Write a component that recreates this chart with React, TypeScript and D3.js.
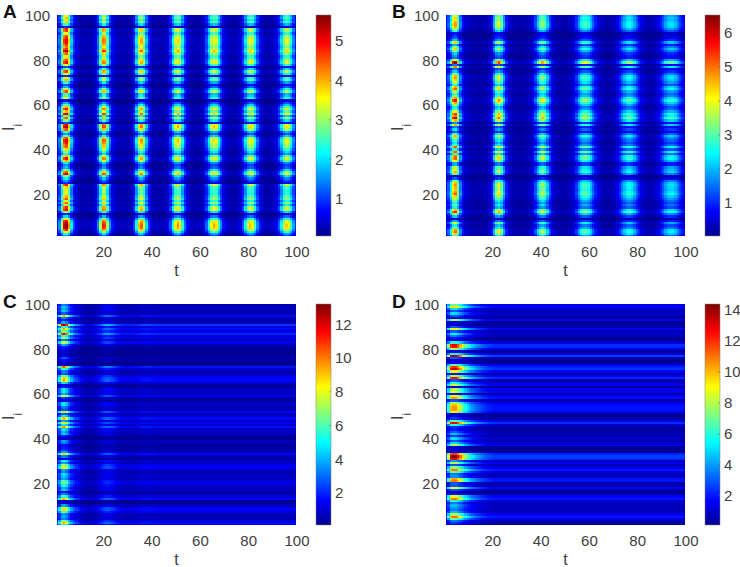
import * as d3 from 'd3'

const rowsA = [
    1.6, 2.4, 3.6, 4.8, 5.5, 5.6, 5.4, 5.0, 3.6, 2.0,
    0.9, 3.0, 5.0, 4.8, 3.2, 4.4, 3.4, 4.5, 4.0, 3.4,
    3.6, 3.5, 3.8, 4.9, 1.0, 1.6, 2.2, 3.0, 5.3, 4.5,
    3.0, 1.8, 1.5, 2.2, 4.0, 5.0, 4.0, 2.4, 3.0, 3.8,
    4.5, 4.6, 4.9, 5.2, 4.6, 2.8, 1.7, 2.6, 4.6, 5.4,
    5.2, 1.2, 3.0, 4.5, 2.8, 5.4, 4.0, 5.0, 4.0, 2.8,
    1.8, 0.8, 3.6, 2.8, 2.6, 4.6, 3.4, 1.8, 1.2, 2.5,
    4.0, 3.6, 1.0, 3.5, 4.7, 3.0, 1.2, 3.6, 5.0, 4.6,
    3.8, 3.6, 4.5, 5.5, 4.7, 4.3, 4.6, 5.0, 5.1, 4.8,
    4.6, 3.6, 4.7, 4.8, 0.9, 2.6, 3.8, 3.2, 3.9, 3.5,
]
const rowsB = [
    3.0, 4.4, 5.0, 4.8, 3.2, 2.6, 4.0, 2.0, 0.6, 2.2,
    3.6, 5.6, 4.6, 2.6, 3.2, 2.6, 3.2, 3.8, 4.4, 5.2,
    4.8, 4.4, 4.6, 4.8, 4.5, 3.4, 1.4, 0.5, 3.4, 4.6,
    4.2, 3.8, 2.0, 2.0, 4.2, 5.2, 5.0, 3.0, 5.2, 2.8,
    5.2, 3.0, 2.4, 3.0, 3.6, 4.6, 3.0, 1.4, 2.4, 1.6,
    4.6, 1.8, 4.6, 6.2, 5.0, 5.4, 4.2, 3.0, 2.6, 3.6,
    4.6, 5.8, 4.8, 3.4, 3.0, 3.8, 5.2, 4.6, 2.8, 3.8,
    4.4, 4.8, 4.6, 3.4, 2.2, 1.6, 5.0, 1.6, 6.5, 4.0,
    1.6, 1.8, 2.2, 3.4, 4.4, 3.4, 2.0, 4.4, 2.2, 1.4,
    1.2, 0.9, 2.8, 3.8, 4.6, 4.8, 4.6, 4.2, 4.4, 4.0,
]
const rowsC = [
    6, 9.5, 7, 3.5, 4, 3.8, 6.5, 9, 8.5, 4,
    1, 1.2, 9.5, 6, 3.5, 1.8, 4.5, 4, 5.5, 7,
    6.5, 4, 4.5, 5, 3.5, 4, 8.5, 7.5, 4, 5.5,
    1.5, 3.5, 9, 4, 2.5, 2, 1.8, 3.5, 4, 1,
    2, 4.5, 4, 5, 10, 5, 8.5, 4, 9.5, 5,
    3, 9, 3, 3.5, 5, 5, 1.5, 2.5, 8.5, 4,
    5, 5, 2, 1.5, 5, 9.5, 9, 7, 3, 3.5,
    6, 10.5, 1, 0.7, 1.8, 3, 1, 1, 1.2, 1.8,
    2, 4, 8, 3.5, 7.5, 6, 12, 7, 9.5, 6,
    13.2, 4, 2, 3.5, 9.5, 3, 4.5, 4, 4.5, 3.5,
]
const rowsD = [
    1.5, 2.5, 3.5, 7, 11, 8, 4.5, 3.5, 4, 4.5,
    3.5, 6, 11, 9, 2, 1, 3, 9, 3, 3,
    11, 10.5, 4, 3.5, 7, 11, 7.5, 3, 8, 4,
    13, 14.4, 12, 1.5, 0.8, 1.2, 8, 5, 3, 5,
    2.5, 4.5, 3, 2, 2.5, 6, 13, 7, 2.5, 0.8,
    1.5, 9, 10.5, 10.5, 10, 8, 3, 10.5, 9, 2,
    8.5, 8, 1.5, 8.5, 6, 3, 12.5, 8, 2, 9,
    13.5, 12, 7, 1.5, 1.2, 3, 14, 6, 1.5, 8,
    12.5, 13, 6, 1.2, 2, 3.5, 5.5, 3, 9, 3,
    1, 1.5, 8, 1.5, 3, 5, 3, 5, 9.5, 7,
]

// relative response at t = 1..100
const timeA = [
    0.14, 0.28, 0.58, 0.92, 1, 0.74, 0.38, 0.2, 0.11, 0.07,
    0.06, 0.06, 0.06, 0.06, 0.06, 0.07, 0.12, 0.27, 0.58, 0.86,
    0.84, 0.55, 0.28, 0.14, 0.09, 0.07, 0.06, 0.06, 0.06, 0.06,
    0.06, 0.09, 0.19, 0.42, 0.7, 0.8, 0.62, 0.36, 0.19, 0.1,
    0.07, 0.06, 0.06, 0.06, 0.06, 0.07, 0.11, 0.22, 0.43, 0.66,
    0.75, 0.66, 0.44, 0.24, 0.13, 0.08, 0.06, 0.06, 0.06, 0.06,
    0.07, 0.12, 0.23, 0.42, 0.63, 0.72, 0.66, 0.46, 0.27, 0.14,
    0.09, 0.07, 0.06, 0.06, 0.06, 0.07, 0.11, 0.22, 0.41, 0.6,
    0.7, 0.65, 0.46, 0.27, 0.15, 0.09, 0.07, 0.06, 0.06, 0.07,
    0.08, 0.12, 0.23, 0.4, 0.58, 0.68, 0.63, 0.47, 0.3, 0.17,
]
const timeB = [
    0.16, 0.3, 0.55, 0.9, 1, 0.7, 0.35, 0.18, 0.11, 0.08,
    0.07, 0.06, 0.055, 0.05, 0.05, 0.05, 0.055, 0.07, 0.1, 0.18,
    0.42, 0.72, 0.84, 0.68, 0.4, 0.2, 0.11, 0.08, 0.06, 0.055,
    0.05, 0.05, 0.05, 0.055, 0.07, 0.09, 0.15, 0.27, 0.46, 0.64,
    0.72, 0.64, 0.46, 0.27, 0.15, 0.09, 0.07, 0.055, 0.05, 0.05,
    0.055, 0.07, 0.09, 0.14, 0.24, 0.38, 0.52, 0.6, 0.62, 0.56,
    0.44, 0.31, 0.2, 0.13, 0.09, 0.07, 0.055, 0.05, 0.055, 0.07,
    0.09, 0.14, 0.22, 0.33, 0.44, 0.52, 0.54, 0.5, 0.41, 0.3,
    0.2, 0.13, 0.09, 0.07, 0.06, 0.055, 0.07, 0.09, 0.13, 0.2,
    0.29, 0.39, 0.46, 0.48, 0.48, 0.43, 0.35, 0.26, 0.19, 0.13,
]
const timeC = [
    0.3, 0.55, 0.9, 1, 0.85, 0.58, 0.42, 0.33, 0.27, 0.22,
    0.18, 0.14, 0.12, 0.11, 0.11, 0.12, 0.14, 0.17, 0.21, 0.27,
    0.3, 0.31, 0.3, 0.27, 0.23, 0.2, 0.17, 0.16, 0.15, 0.15,
    0.15, 0.15, 0.16, 0.16, 0.17, 0.18, 0.19, 0.19, 0.19, 0.18,
    0.18, 0.17, 0.17, 0.17, 0.17, 0.17, 0.17, 0.17, 0.17, 0.17,
    0.17, 0.17, 0.17, 0.17, 0.17, 0.17, 0.17, 0.17, 0.17, 0.17,
    0.17, 0.17, 0.17, 0.17, 0.17, 0.17, 0.17, 0.17, 0.17, 0.17,
    0.17, 0.17, 0.17, 0.17, 0.17, 0.17, 0.17, 0.17, 0.17, 0.17,
    0.17, 0.17, 0.17, 0.17, 0.17, 0.17, 0.17, 0.17, 0.17, 0.17,
    0.17, 0.17, 0.17, 0.17, 0.17, 0.17, 0.17, 0.17, 0.17, 0.17,
]
const timeD = [
    0.25, 0.6, 0.95, 1, 1, 0.9, 0.78, 0.66, 0.56, 0.48,
    0.42, 0.37, 0.33, 0.3, 0.27, 0.25, 0.23, 0.21, 0.2, 0.19,
    0.18, 0.18, 0.18, 0.18, 0.18, 0.18, 0.18, 0.18, 0.18, 0.18,
    0.18, 0.18, 0.18, 0.18, 0.18, 0.18, 0.18, 0.18, 0.18, 0.18,
    0.18, 0.18, 0.18, 0.18, 0.18, 0.18, 0.18, 0.18, 0.18, 0.18,
    0.18, 0.18, 0.18, 0.18, 0.18, 0.18, 0.18, 0.18, 0.18, 0.18,
    0.18, 0.18, 0.18, 0.18, 0.18, 0.18, 0.18, 0.18, 0.18, 0.18,
    0.18, 0.18, 0.18, 0.18, 0.18, 0.18, 0.18, 0.18, 0.18, 0.18,
    0.18, 0.18, 0.18, 0.18, 0.18, 0.18, 0.18, 0.18, 0.18, 0.18,
    0.18, 0.18, 0.18, 0.18, 0.18, 0.18, 0.18, 0.18, 0.18, 0.18,
]

const axisTicks = [20, 40, 60, 80, 100]
const barTicksA = [1, 2, 3, 4, 5]
const barTicksB = [1, 2, 3, 4, 5, 6]
const barTicksC = [2, 4, 6, 8, 10, 12]
const barTicksD = [2, 4, 6, 8, 10, 12, 14]

const jetStops = ['#00008f', '#0000ff', '#00ffff', '#ffff00', '#ff0000', '#800000']
const jetPos = [0, 0.11, 0.375, 0.625, 0.875, 1]

const tickColor = '#404040'
const font = '"Liberation Sans", Arial, sans-serif'
const plotWidth = 239
const plotHeight = 221
const barGap = 20
const barWidth = 15

interface PanelProps {
    id: string
    left: number
    top: number
    rows: number[]
    time: number[]
    range: [number, number]
    barTicks: number[]
}

function Panel({ id, left, top, rows, time, range, barTicks }: PanelProps) {
    const x = d3.scaleLinear().domain([1, 100]).range([0, plotWidth])
    const y = d3.scaleLinear().domain([1, 100]).range([plotHeight, 0])
    const barY = d3.scaleLinear().domain(range).range([plotHeight, 0])
    const color = d3
        .scaleLinear<string>()
        .domain(jetPos.map((p) => range[0] + p * (range[1] - range[0])))
        .range(jetStops)
        .clamp(true)

    const cellW = x(2) - x(1)
    const cellH = y(1) - y(2)
    const barSteps = d3.range(0, plotHeight, 1)

    return (
        <g transform={`translate(${left},${top})`}>
            <defs>
                <clipPath id={`clip${id}`}>
                    <rect width={plotWidth} height={plotHeight} />
                </clipPath>
                <filter id={`soft${id}`} x="-2%" y="-2%" width="104%" height="104%" colorInterpolationFilters="sRGB">
                    <feGaussianBlur stdDeviation="0.7" />
                </filter>
            </defs>
            <rect width={plotWidth} height={plotHeight} fill="#2050e0" />
            <g clipPath={`url(#clip${id})`}>
                <g filter={`url(#soft${id})`} shapeRendering="crispEdges">
                    {rows.map((amp, i) =>
                        time.map((f, j) => (
                            <rect
                                key={`${i}-${j}`}
                                x={x(j + 1) - cellW / 2}
                                y={y(i + 1) - cellH / 2}
                                width={cellW + 0.6}
                                height={cellH + 0.6}
                                fill={color(amp * f)}
                            />
                        )),
                    )}
                </g>
            </g>

            {axisTicks.map((t) => (
                <text key={t} x={x(t) + 1} y={plotHeight + 21} textAnchor="middle" fontSize={15} fill={tickColor}>
                    {t}
                </text>
            ))}
            {axisTicks.map((t) => (
                <text key={t} x={-7} y={y(t) + 6} textAnchor="end" fontSize={15} fill={tickColor}>
                    {t}
                </text>
            ))}
            <text x={plotWidth / 2} y={plotHeight + 40} textAnchor="middle" fontSize={16} fill={tickColor}>
                t
            </text>
            <text transform={`translate(-43,${plotHeight / 2 + 2}) rotate(-90)`} textAnchor="middle" fontSize={16} fill={tickColor}>
                I
                <tspan fontSize={12} dy={8}>
                    i
                </tspan>
            </text>

            <g transform={`translate(${plotWidth + barGap},0)`}>
                {barSteps.map((py) => (
                    <rect
                        key={py}
                        y={py}
                        width={barWidth}
                        height={1.4}
                        fill={color(barY.invert(py + 0.5))}
                        shapeRendering="crispEdges"
                    />
                ))}
                <rect width={barWidth} height={plotHeight} fill="none" stroke="#808080" strokeWidth={0.5} />
                {barTicks.map((t) => (
                    <g key={t}>
                        <line x1={barWidth - 2} x2={barWidth} y1={barY(t)} y2={barY(t)} stroke="#606060" strokeWidth={0.5} />
                        <text x={barWidth + 4} y={barY(t) + 5.3} fontSize={15} fill={tickColor}>
                            {t}
                        </text>
                    </g>
                ))}
            </g>

            <text x={-54} y={top < 100 ? 3 : 4} fontSize={19} fontWeight="bold" fill="#111">
                {id}
            </text>
        </g>
    )
}

export default function App() {
    return (
        <svg
            width={740}
            height={567}
            fontFamily={font}
            style={{ position: 'absolute', left: 0, top: 0, background: 'white' }}
        >
            <Panel id="A" left={57} top={15} rows={rowsA} time={timeA} range={[0.06, 5.65]} barTicks={barTicksA} />
            <Panel id="B" left={446} top={15} rows={rowsB} time={timeB} range={[0.03, 6.53]} barTicks={barTicksB} />
            <Panel id="C" left={57} top={304} rows={rowsC} time={timeC} range={[0.1, 13.2]} barTicks={barTicksC} />
            <Panel id="D" left={446} top={304} rows={rowsD} time={timeD} range={[0.1, 14.4]} barTicks={barTicksD} />
        </svg>
    )
}
